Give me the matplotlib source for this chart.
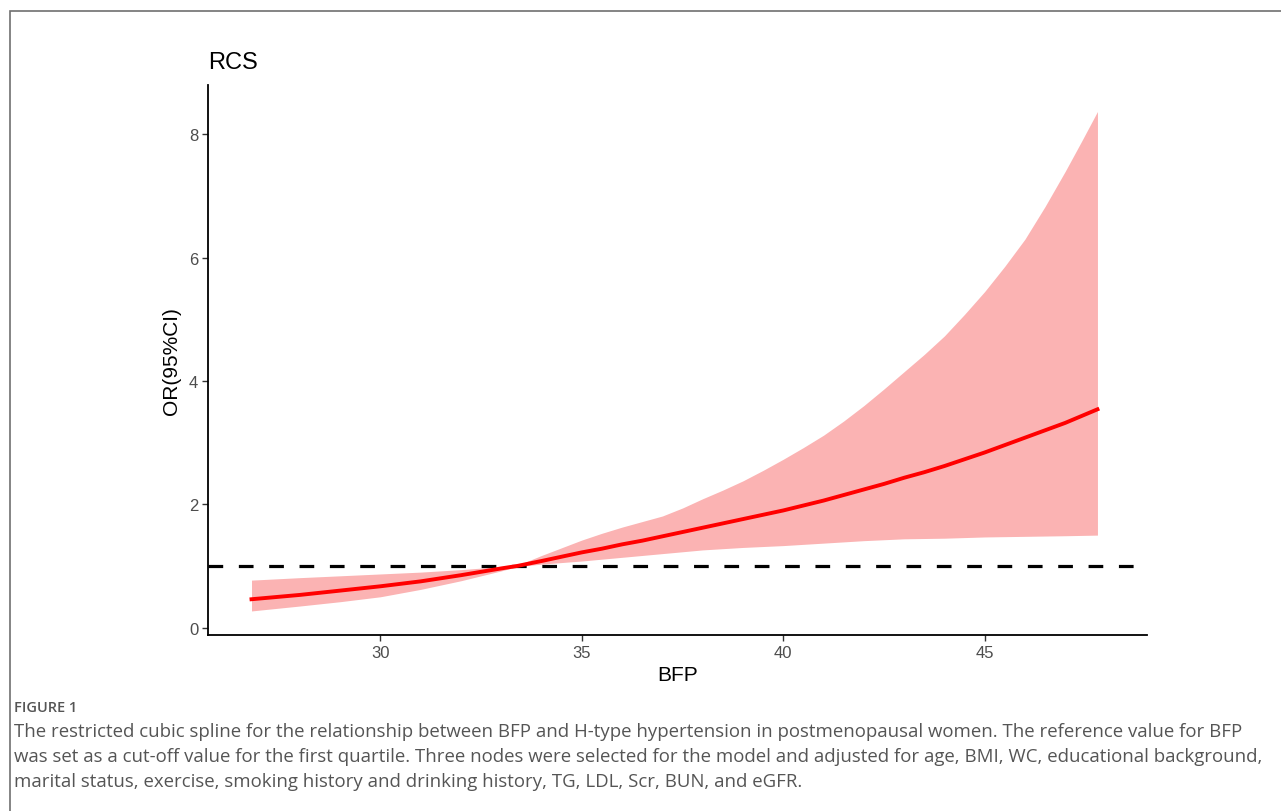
import matplotlib
matplotlib.use("Agg")
import matplotlib.pyplot as plt
from matplotlib.patches import Rectangle

# values (BFP vs OR with 95% CI)
bfp = [26.8, 28, 29, 30, 31, 32, 33, 33.4, 34, 35, 35.5, 36, 36.5, 37, 37.5,
       38, 38.5, 39, 39.5, 40, 40.5, 41, 41.5, 42, 42.5, 43, 43.5, 44, 44.5,
       45, 45.5, 46, 46.5, 47, 47.4, 47.8]
odds = [0.46, 0.53, 0.60, 0.67, 0.75, 0.85, 0.96, 1.00, 1.08, 1.22, 1.28, 1.35,
        1.41, 1.48, 1.55, 1.62, 1.69, 1.76, 1.83, 1.90, 1.98, 2.06, 2.15, 2.24,
        2.33, 2.43, 2.52, 2.62, 2.73, 2.84, 2.96, 3.08, 3.20, 3.32, 3.43, 3.54]
upper = [0.77, 0.81, 0.84, 0.87, 0.90, 0.94, 0.99, 1.01, 1.17, 1.42, 1.53, 1.63,
         1.72, 1.81, 1.94, 2.09, 2.23, 2.38, 2.55, 2.73, 2.92, 3.12, 3.35, 3.60,
         3.87, 4.15, 4.43, 4.73, 5.08, 5.45, 5.86, 6.30, 6.83, 7.40, 7.88, 8.37]
lower = [0.27, 0.35, 0.42, 0.50, 0.62, 0.76, 0.92, 0.99, 1.03, 1.08, 1.11, 1.14,
         1.17, 1.20, 1.23, 1.26, 1.28, 1.30, 1.315, 1.33, 1.35, 1.37, 1.39, 1.41,
         1.425, 1.44, 1.445, 1.45, 1.46, 1.47, 1.475, 1.48, 1.485, 1.49, 1.495, 1.50]

xticks = [30, 35, 40, 45]
yticks = [0, 2, 4, 6, 8]
ref_value = 1

caption = ("The restricted cubic spline for the relationship between BFP and H-type hypertension in postmenopausal women. The reference value for BFP\n"
           "was set as a cut-off value for the first quartile. Three nodes were selected for the model and adjusted for age, BMI, WC, educational background,\n"
           "marital status, exercise, smoking history and drinking history, TG, LDL, Scr, BUN, and eGFR.")

plt.rcParams["font.family"] = ["Liberation Sans", "DejaVu Sans"]

W, H = 1281, 812
fig = plt.figure(figsize=(W / 100, H / 100), dpi=100)

# outer grey frame (only top and left edges visible in the crop)
fig.patches.append(Rectangle((10 / W, -0.1), 1.2, (H - 12) / H + 0.1,
                             transform=fig.transFigure, fill=False,
                             edgecolor="#707070", linewidth=1.2))

ax = fig.add_axes([208 / W, 176 / H, (1147 - 208) / W, (636 - 86) / H])

ax.fill_between(bfp, lower, upper, color="#FBB3B3", linewidth=0, zorder=1)
ax.plot(bfp, odds, color="#FF0000", linewidth=2.8, zorder=3)
ax.axhline(ref_value, color="black", linewidth=2.3, dashes=(4.6, 4.9), zorder=2)

ax.set_xlim(25.72, 49.03)
ax.set_ylim(-0.12, 8.80)
ax.set_xticks(xticks)
ax.set_yticks(yticks)

for side in ["top", "right"]:
    ax.spines[side].set_visible(False)
for side in ["left", "bottom"]:
    ax.spines[side].set_linewidth(1.3)
ax.tick_params(length=4, width=1.0, color="#333333", labelsize=12,
               labelcolor="#4D4D4D", pad=3)

ax.set_xlabel("BFP", fontsize=15, labelpad=4)
ax.set_ylabel("OR(95%CI)", fontsize=15, labelpad=6)
ax.set_title("RCS", fontsize=17, loc="left", pad=12)

fig.text(14 / W, 1 - 708 / H, "FIGURE 1", fontsize=10.5, color="#555555",
         family="Open Sans", fontweight="semibold", va="center")
fig.text(14 / W, 1 - 723 / H, caption, fontsize=13.4, color="#555555",
         family="Open Sans", va="top", linespacing=1.5)

fig.savefig("out.png", dpi=100)
